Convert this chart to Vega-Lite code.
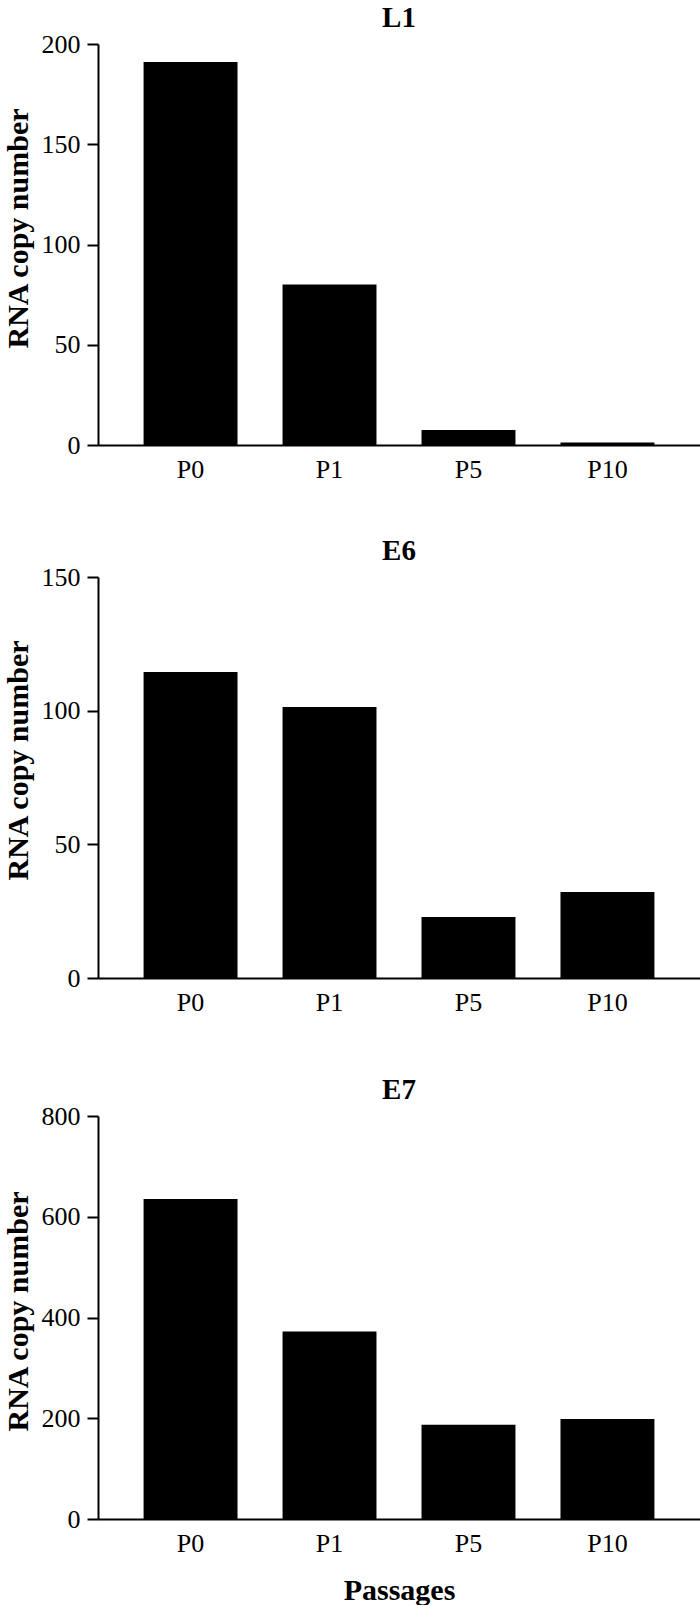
{
  "$schema": "https://vega.github.io/schema/vega-lite/v6.json",
  "padding": {"left": 3, "top": 4, "right": 0, "bottom": 0},
  "background": "white",
  "datasets": {
    "rna": [
      {"gene": "L1", "passage": "P0", "value": 191},
      {"gene": "L1", "passage": "P1", "value": 80},
      {"gene": "L1", "passage": "P5", "value": 7.5},
      {"gene": "L1", "passage": "P10", "value": 1.3},
      {"gene": "E6", "passage": "P0", "value": 114.5},
      {"gene": "E6", "passage": "P1", "value": 101.4},
      {"gene": "E6", "passage": "P5", "value": 22.8},
      {"gene": "E6", "passage": "P10", "value": 32.2},
      {"gene": "E7", "passage": "P0", "value": 635},
      {"gene": "E7", "passage": "P1", "value": 372},
      {"gene": "E7", "passage": "P5", "value": 187},
      {"gene": "E7", "passage": "P10", "value": 198.6}
    ]
  },
  "config": {
    "view": {"stroke": null},
    "font": "Liberation Serif",
    "axis": {
      "labelFont": "Liberation Serif",
      "labelFontSize": 26,
      "labelColor": "black",
      "titleFont": "Liberation Serif",
      "titleFontSize": 30,
      "titleFontWeight": "bold",
      "titleColor": "black",
      "domainColor": "black",
      "domainWidth": 2,
      "tickColor": "black",
      "tickWidth": 2,
      "grid": false
    },
    "axisX": {"ticks": false, "labelPadding": 11, "labelAngle": 0, "titlePadding": 19},
    "axisY": {"tickSize": 11, "labelPadding": 7, "titlePadding": 8},
    "title": {"font": "Liberation Serif", "fontSize": 29, "fontWeight": "bold", "color": "black", "anchor": "middle", "frame": "group", "offset": -2}
  },
  "spacing": 61,
  "vconcat": [
    {
      "spacing": 55,
      "vconcat": [
        {
          "title": "L1",
          "data": {"name": "rna"},
          "transform": [{"filter": "datum.gene === 'L1'"}],
          "width": 602,
          "height": 401,
          "mark": {"type": "bar", "color": "black"},
          "encoding": {
            "x": {"field": "passage", "type": "nominal", "sort": ["P0", "P1", "P5", "P10"],
                  "scale": {"paddingInner": 0.324, "paddingOuter": 0.328}, "axis": {"title": null}},
            "y": {"field": "value", "type": "quantitative", "scale": {"domain": [0, 200], "nice": false},
                  "axis": {"title": "RNA copy number", "titleY": 184, "values": [0, 50, 100, 150, 200]}}
          }
        },
        {
          "title": "E6",
          "data": {"name": "rna"},
          "transform": [{"filter": "datum.gene === 'E6'"}],
          "width": 602,
          "height": 401,
          "mark": {"type": "bar", "color": "black"},
          "encoding": {
            "x": {"field": "passage", "type": "nominal", "sort": ["P0", "P1", "P5", "P10"],
                  "scale": {"paddingInner": 0.324, "paddingOuter": 0.328}, "axis": {"title": null}},
            "y": {"field": "value", "type": "quantitative", "scale": {"domain": [0, 150], "nice": false},
                  "axis": {"title": "RNA copy number", "titleY": 183, "values": [0, 50, 100, 150]}}
          }
        }
      ]
    },
    {
      "title": {"text": "E7", "offset": -2},
      "data": {"name": "rna"},
      "transform": [{"filter": "datum.gene === 'E7'"}],
      "width": 602,
      "height": 403,
      "mark": {"type": "bar", "color": "black"},
      "encoding": {
        "x": {"field": "passage", "type": "nominal", "sort": ["P0", "P1", "P5", "P10"],
              "scale": {"paddingInner": 0.324, "paddingOuter": 0.328}, "axis": {"title": "Passages"}},
        "y": {"field": "value", "type": "quantitative", "scale": {"domain": [0, 800], "nice": false},
              "axis": {"title": "RNA copy number", "titleY": 195, "values": [0, 200, 400, 600, 800]}}
      }
    }
  ]
}
